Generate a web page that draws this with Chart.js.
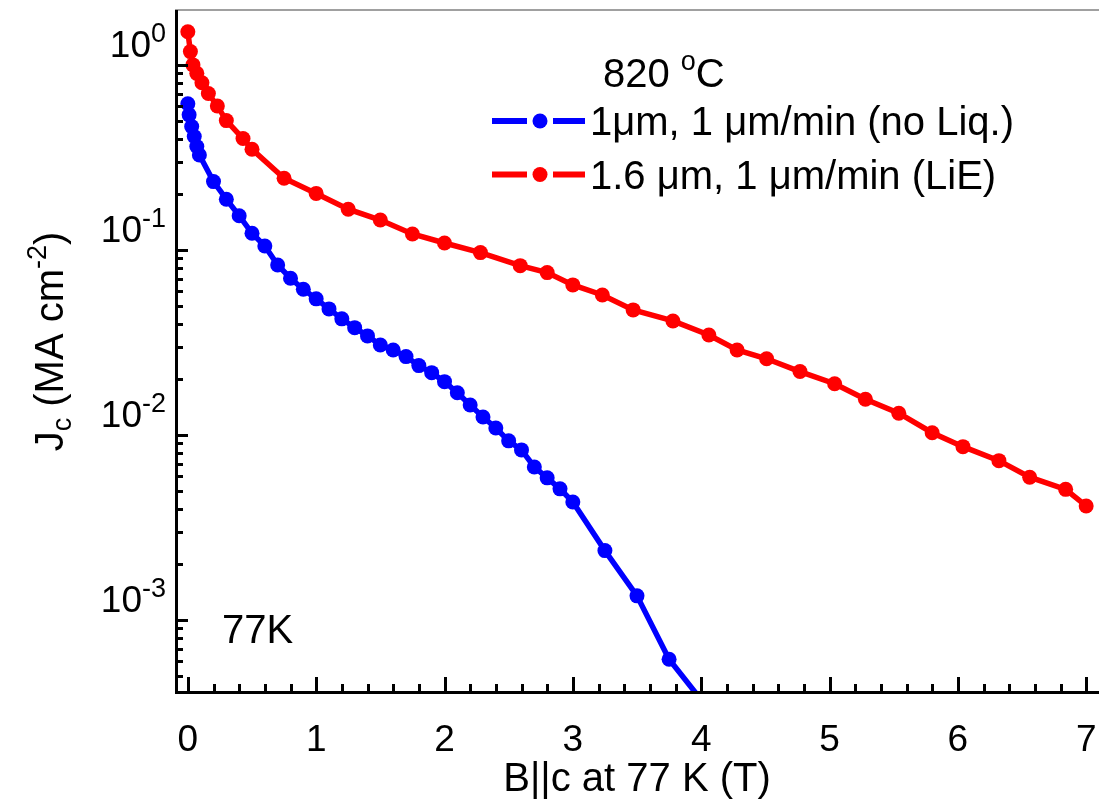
<!DOCTYPE html>
<html lang="en">
<head>
<meta charset="UTF-8">
<title>Jc vs B at 77 K</title>
<style>
  html, body { margin: 0; padding: 0; background: #fff; }
  #jcChart { display: block; }
</style>
</head>
<body>
<canvas id="jcChart" width="1099" height="804"></canvas>
<script src="https://cdn.jsdelivr.net/npm/chart.js"></script>
<script>
// B||c (T) and Jc (MA/cm2)
const fieldNoLiq = [0, 0.01, 0.03, 0.05, 0.07, 0.09, 0.2, 0.3, 0.4, 0.5, 0.6, 0.7, 0.8, 0.9, 1.0, 1.1, 1.2, 1.3, 1.4, 1.5, 1.6, 1.7, 1.8, 1.9, 2.0, 2.1, 2.2, 2.3, 2.4, 2.5, 2.6, 2.7, 2.8, 2.9, 3.0, 3.25, 3.5, 3.75, 4.0];
const jcNoLiq = [0.616, 0.537, 0.464, 0.410, 0.362, 0.326, 0.234, 0.188, 0.153, 0.123, 0.105, 0.0829, 0.0703, 0.0613, 0.0544, 0.0480, 0.0424, 0.0380, 0.0343, 0.0306, 0.0288, 0.0265, 0.0237, 0.0217, 0.0194, 0.0169, 0.0145, 0.0125, 0.0109, 0.00929, 0.00830, 0.00671, 0.00586, 0.00511, 0.00434, 0.00237, 0.00135, 0.000613, 0.00037];

const fieldLiE = [0, 0.02, 0.04, 0.07, 0.11, 0.16, 0.23, 0.30, 0.43, 0.50, 0.75, 1.0, 1.25, 1.5, 1.75, 2.0, 2.28, 2.59, 2.8, 3.0, 3.23, 3.47, 3.78, 4.06, 4.28, 4.51, 4.77, 5.04, 5.28, 5.54, 5.8, 6.04, 6.32, 6.56, 6.84, 7.0];
const jcLiE = [1.51, 1.18, 1.0, 0.90, 0.80, 0.70, 0.60, 0.50, 0.40, 0.35, 0.244, 0.202, 0.166, 0.145, 0.122, 0.109, 0.0967, 0.0822, 0.0754, 0.0647, 0.0571, 0.0474, 0.0413, 0.0347, 0.0288, 0.0258, 0.0220, 0.0189, 0.0156, 0.0131, 0.01028, 0.00864, 0.00726, 0.00591, 0.00508, 0.00413];

const labelNoLiq = '1\u03bcm, 1 \u03bcm/min (no Liq.)';
const labelLiE = '1.6 \u03bcm, 1 \u03bcm/min (LiE)';
const legendTitle = ['820 ', 'o', 'C'];

const xTickLabels = ['0', '1', '2', '3', '4', '5', '6', '7'];
const yDecades = [-3, -2, -1, 0];
const xTitle = 'B||c at 77 K (T)';
const yTitle = ['J', 'c', ' (MA cm', '-2', ')'];
const tempNote = '77K';

const FONT = '"Liberation Sans", Arial, Helvetica, sans-serif';
const BLUE = '#0000ff';
const RED = '#ff0000';

// tick positions: 0.2 T steps on x, 1..9 x 10^n on y
const xTicks = [];
for (let i = 0; i <= 35; i++) xTicks.push(Math.round(i * 2) / 10);
const yTicks = [];
for (let e = -4; e <= 0; e++) {
    for (let k = 1; k <= 9; k++) yTicks.push({ value: k * Math.pow(10, e), major: k === 1 });
}

function drawRuns(ctx, x, y, runs) {
    for (const [t, size, rise] of runs) {
        ctx.font = size + 'px ' + FONT;
        ctx.fillText(t, x, y - rise);
        x += ctx.measureText(t).width;
    }
    return x;
}
function runsWidth(ctx, runs) {
    let w = 0;
    for (const [t, size] of runs) {
        ctx.font = size + 'px ' + FONT;
        w += ctx.measureText(t).width;
    }
    return w;
}

// axes in Origin style: inward ticks, thick left/bottom spines
const originAxes = {
    id: 'originAxes',
    afterDatasetsDraw(chart) {
        const { ctx, chartArea: a, scales: { x, y } } = chart;
        ctx.save();
        ctx.lineCap = 'butt';

        // top frame
        ctx.strokeStyle = '#808080';
        ctx.lineWidth = 1.5;
        ctx.beginPath();
        ctx.moveTo(a.left, a.top);
        ctx.lineTo(a.right, a.top);
        ctx.stroke();

        ctx.strokeStyle = '#000';
        ctx.lineWidth = 3;
        ctx.beginPath();
        ctx.moveTo(a.left + 1.5, a.top);
        ctx.lineTo(a.left + 1.5, a.bottom + 1.5);
        ctx.lineTo(a.right, a.bottom + 1.5);
        ctx.stroke();

        // x ticks
        ctx.beginPath();
        xTicks.forEach(v => {
            const px = Math.round(x.getPixelForValue(v)) + 0.5;
            const len = Number.isInteger(v) ? 14 : 7;
            ctx.moveTo(px, a.bottom);
            ctx.lineTo(px, a.bottom - len);
        });
        // y ticks
        yTicks.forEach(t => {
            if (t.value < y.min || t.value > y.max) return;
            const py = Math.round(y.getPixelForValue(t.value)) + 0.5;
            ctx.moveTo(a.left, py);
            ctx.lineTo(a.left + (t.major ? 13 : 8), py);
        });
        ctx.stroke();

        ctx.fillStyle = '#000';
        ctx.textBaseline = 'alphabetic';
        ctx.textAlign = 'left';

        // y tick labels 10^n
        yDecades.forEach(e => {
            const py = y.getPixelForValue(Math.pow(10, e));
            const runs = [['10', 37, 0], [String(e), 27, 15]];
            const w = runsWidth(ctx, runs);
            drawRuns(ctx, a.left - 9 - w, py - 8, runs);
        });

        // y title, rotated
        const yRuns = [[yTitle[0], 40, 0], [yTitle[1], 27, -8], [yTitle[2], 40, 0], [yTitle[3], 27, 17], [yTitle[4], 40, 0]];
        const yw = runsWidth(ctx, yRuns);
        ctx.save();
        ctx.translate(63, (a.top + a.bottom) / 2 - 9);
        ctx.rotate(-Math.PI / 2);
        drawRuns(ctx, -yw / 2, 0, yRuns);
        ctx.restore();

        // legend
        drawRuns(ctx, 603, 87, [[legendTitle[0], 40, 0], [legendTitle[1], 27, 17], [legendTitle[2], 40, 0]]);
        chart.data.datasets.forEach((ds, i) => {
            const ly = 121 + i * 53.5;
            ctx.strokeStyle = ds.borderColor;
            ctx.lineWidth = 6;
            ctx.beginPath();
            ctx.moveTo(492, ly); ctx.lineTo(527, ly);
            ctx.moveTo(553, ly); ctx.lineTo(585, ly);
            ctx.stroke();
            ctx.fillStyle = ds.backgroundColor;
            ctx.beginPath();
            ctx.arc(540, ly, 7.5, 0, Math.PI * 2);
            ctx.fill();
            ctx.fillStyle = '#000';
            ctx.font = '40px ' + FONT;
            ctx.fillText(ds.label, 590, ly + 14);
        });

        // temperature note
        ctx.font = '40px ' + FONT;
        ctx.fillText(tempNote, a.left + 47, a.bottom - 48);

        ctx.restore();
    }
};

const toPoints = (xs, ys) => xs.map((v, i) => ({ x: v, y: ys[i] }));

const data = {
    datasets: [
        {
            label: labelNoLiq,
            data: toPoints(fieldNoLiq, jcNoLiq),
            borderColor: BLUE,
            backgroundColor: BLUE,
            borderWidth: 5.5,
            pointRadius: 7.5,
            pointBorderWidth: 0,
            pointBackgroundColor: BLUE,
            tension: 0
        },
        {
            label: labelLiE,
            data: toPoints(fieldLiE, jcLiE),
            borderColor: RED,
            backgroundColor: RED,
            borderWidth: 5.5,
            pointRadius: 7.5,
            pointBorderWidth: 0,
            pointBackgroundColor: RED,
            tension: 0
        }
    ]
};

const config = {
    type: 'line',
    data,
    options: {
        responsive: false,
        animation: false,
        devicePixelRatio: 1,
        layout: { autoPadding: false, padding: { top: 10, right: 0, bottom: 0, left: 0 } },
        plugins: {
            legend: { display: false },
            tooltip: { enabled: false }
        },
        scales: {
            x: {
                type: 'linear',
                min: -0.1,
                max: 7.1,
                grid: { display: false },
                border: { display: false },
                afterBuildTicks: s => { s.ticks = xTicks.map(v => ({ value: v })); },
                ticks: {
                    autoSkip: false,
                    maxRotation: 0,
                    padding: 20,
                    color: '#000',
                    font: { size: 37, family: FONT },
                    callback: v => (Number.isInteger(v) ? xTickLabels[v] : '')
                },
                title: {
                    display: true,
                    text: xTitle,
                    color: '#000',
                    font: { size: 40, family: FONT },
                    padding: { top: 0, bottom: 0 }
                },
                afterFit: s => {
                    s.height = 113;
                    s.paddingLeft = 0;
                    s.paddingRight = 0;
                }
            },
            y: {
                type: 'logarithmic',
                min: 4.13e-4,
                max: 1.98,
                grid: { display: false },
                border: { display: false },
                ticks: { display: false },
                afterFit: s => {
                    s.width = 175;
                    s.paddingTop = 0;
                    s.paddingBottom = 0;
                }
            }
        }
    },
    plugins: [originAxes]
};

const jcChart = new Chart(document.getElementById('jcChart'), config);
</script>
</body>
</html>
